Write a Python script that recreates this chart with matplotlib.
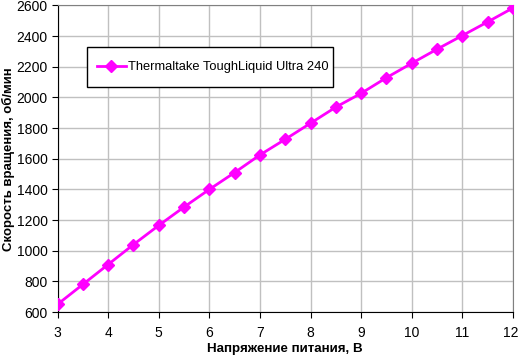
import matplotlib
matplotlib.use("Agg")
import matplotlib.pyplot as plt
import matplotlib.transforms as mtransforms
from matplotlib.patches import Rectangle

voltage = [3, 3.5, 4, 4.5, 5, 5.5, 6, 6.5, 7, 7.5, 8, 8.5, 9, 9.5, 10, 10.5, 11, 11.5, 12]
rpm = [650, 780, 910, 1040, 1165, 1285, 1400, 1510, 1625, 1727, 1832, 1937, 2027, 2129, 2223, 2315, 2404, 2493, 2584]
series_label = "Thermaltake ToughLiquid Ultra 240"
xticks = list(range(3, 13))
yticks = list(range(600, 2601, 200))

plt.rcParams['font.family'] = ['Liberation Sans', 'DejaVu Sans']

fig = plt.figure(figsize=(5.19, 3.57), dpi=100)
ax = fig.add_axes([0.1108, 0.126, 0.8776, 0.8586])

ax.plot(voltage, rpm, color='#ff00ff', lw=2, marker='D', markersize=6,
        markeredgecolor='#ff00ff', markerfacecolor='#ff00ff', label=series_label, zorder=3)

ax.set_xlim(3, 12)
ax.set_ylim(600, 2600)
ax.set_xticks(xticks)
ax.set_yticks(yticks)
ax.grid(True, color='#c0c0c0', lw=1)
ax.set_axisbelow(True)
for s in ['top', 'right']:
    ax.spines[s].set_color('#808080')
for s in ['left', 'bottom']:
    ax.spines[s].set_color('black')
ax.tick_params(axis='both', labelsize=10, length=4, direction='out')
ax.tick_params(axis='x', pad=6)
ax.tick_params(axis='y', pad=3)

# nudge the last x tick label slightly left so it stays inside the figure
last = ax.get_xticklabels()[-1]
last.set_transform(last.get_transform() + mtransforms.ScaledTranslation(-2 / 100, 0, fig.dpi_scale_trans))

ax.set_xlabel('Напряжение питания, В', fontsize=9.6, fontweight='bold', labelpad=2)
ax.set_ylabel('Скорость вращения, об/мин', fontsize=9.5, fontweight='bold', labelpad=1)

# legend frame
ax.add_patch(Rectangle((0.0648, 0.7341), 0.54, 0.1305, transform=ax.transAxes,
                       facecolor='white', edgecolor='black', lw=1, zorder=4))
leg = ax.legend(loc='center left', bbox_to_anchor=(0.0867, 0.7993), fontsize=9.25,
                frameon=False, borderpad=0, borderaxespad=0,
                handlelength=2.25, handletextpad=0.15)
leg.set_zorder(5)

fig.savefig('out.png', dpi=100)
